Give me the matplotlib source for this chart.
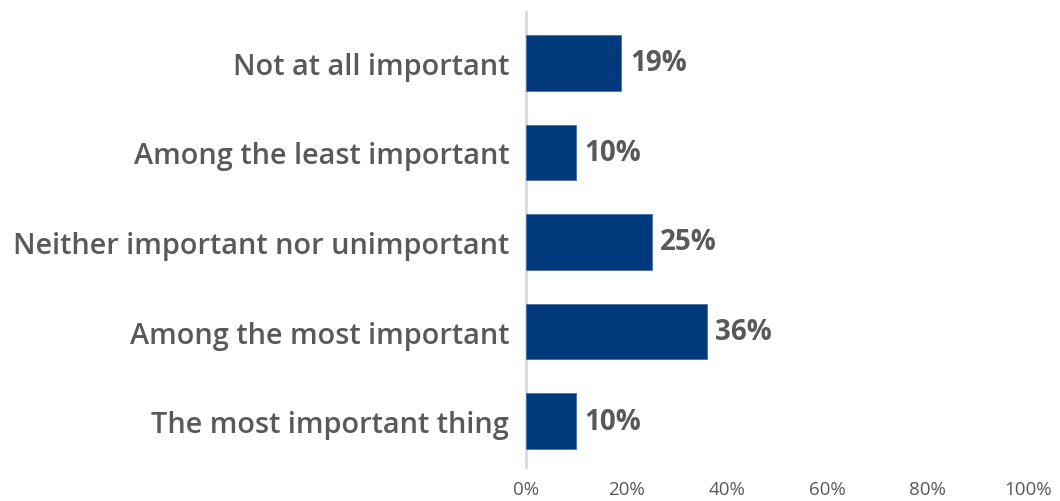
import matplotlib.pyplot as plt

categories = ['Not at all important', 'Among the least important',
              'Neither important nor unimportant', 'Among the most important',
              'The most important thing']
values = [19, 10, 25, 36, 10]
xticks = [0, 20, 40, 60, 80, 100]

plt.rcParams['font.family'] = ['Open Sans', 'DejaVu Sans']
grey = '#595959'
navy = '#003A7D'

fig = plt.figure(figsize=(10.6, 5.02), dpi=100)
W, H = 1060, 502
ax = fig.add_axes([526 / W, 1 - 467 / H, (1028 - 526) / W, (467 - 19) / H])

ypos = range(len(categories))
ax.barh(ypos, values, height=0.62, color=navy, edgecolor='#4a6fa5', linewidth=0.6, zorder=2)
for y, v in zip(ypos, values):
    ax.text(v + 1.7, y, f'{v}%', va='center', ha='left', fontsize=20,
            fontweight='bold', color=grey)

ax.set_xlim(0, 100)
ax.set_ylim(4.5, -0.5)
ax.set_yticks(list(ypos))
ax.set_yticklabels(categories, fontsize=20.8, color=grey, fontweight='semibold')
ax.set_xticks(xticks)
ax.set_xticklabels([f'{t}%' for t in xticks], fontsize=13.5, color=grey)
ax.tick_params(axis='both', length=0)
ax.tick_params(axis='y', pad=12)
ax.tick_params(axis='x', pad=10)
for s in ax.spines.values():
    s.set_visible(False)
ax.axvline(0, ymin=-0.003, ymax=1.013, color='#d9d9d9', linewidth=2, clip_on=False, zorder=1)

fig.savefig('out.png', dpi=100)
